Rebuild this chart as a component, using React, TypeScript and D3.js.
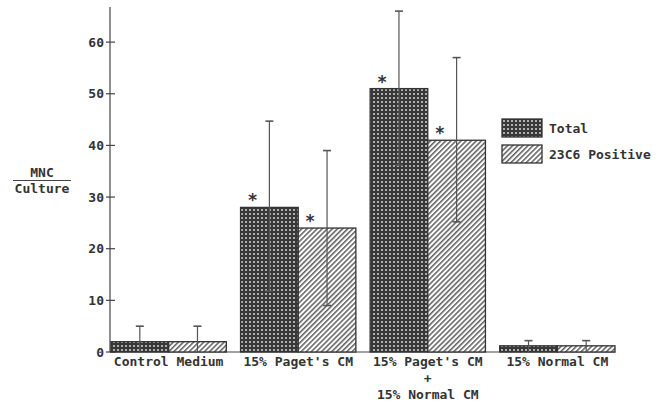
import React from "react";
import * as d3 from "d3";

// values
const groupLabels = [
  ["Control Medium"],
  ["15% Paget's CM"],
  ["15% Paget's CM", "+", "15% Normal CM"],
  ["15% Normal CM"],
];
const groups = ["control", "paget", "paget+normal", "normal"];
const seriesNames = ["Total", "23C6 Positive"];
const totalValues = [2, 28, 51, 1.2];
const positiveValues = [2, 24, 41, 1.2];
const totalErrLow = [0, 11.8, 36.2, 0];
const totalErrHigh = [5, 44.7, 66, 2.2];
const positiveErrLow = [0, 9, 25.2, 0];
const positiveErrHigh = [5, 39, 57, 2.2];
const significant = [false, true, true, false];
const yTicks = [0, 10, 20, 30, 40, 50, 60];

const W = 660;
const H = 403;
const font = "'DejaVu Sans Mono', 'Liberation Mono', monospace";
const ink = "#333";

export default function App() {
  const y = d3.scaleLinear().domain([0, 66.8]).range([352, 7]);
  const x0 = d3.scaleBand<string>().domain(groups).range([111, 615]).paddingInner(0.11);
  const x1 = d3
    .scaleBand<string>()
    .domain(seriesNames)
    .range([0, x0.bandwidth()]);

  const series = [
    { name: seriesNames[0], values: totalValues, lo: totalErrLow, hi: totalErrHigh, fill: "url(#cross)" },
    { name: seriesNames[1], values: positiveValues, lo: positiveErrLow, hi: positiveErrHigh, fill: "url(#diag)" },
  ];

  const lastEnd = (x0(groups[groups.length - 1]) as number) + x0.bandwidth();

  return (
    <svg
      width={W}
      height={H}
      style={{ position: "absolute", left: 0, top: 0, background: "#fff" }}
      fontFamily={font}
      fontWeight="bold"
      fontSize={13}
    >
      <defs>
        <pattern id="cross" width={4} height={4} patternUnits="userSpaceOnUse">
          <rect width={4} height={4} fill="#383838" />
          <rect x={1.2} y={1.2} width={1.6} height={1.6} fill="#f2f2f2" />
        </pattern>
        <pattern
          id="diag"
          width={3.6}
          height={3.6}
          patternUnits="userSpaceOnUse"
          patternTransform="rotate(45)"
        >
          <rect width={3.6} height={3.6} fill="#fff" />
          <line x1={0.8} y1={0} x2={0.8} y2={3.6} stroke="#444" strokeWidth={1.3} />
        </pattern>
      </defs>

      {/* y axis */}
      <line x1={110} x2={110} y1={y(66.8)} y2={y(0)} stroke="#444" strokeWidth={1.2} />
      {yTicks.map((t) => (
        <g key={t}>
          <line x1={106} x2={115} y1={y(t)} y2={y(t)} stroke="#444" strokeWidth={1.2} />
          <text x={104} y={y(t) + 4.7} textAnchor="end" fill={ink}>
            {t}
          </text>
        </g>
      ))}
      <line x1={110} x2={lastEnd} y1={y(0)} y2={y(0)} stroke="#444" strokeWidth={1.2} />

      {/* y label */}
      <text x={42} y={177} textAnchor="middle" fill={ink}>MNC</text>
      <line x1={13} x2={71} y1={180.5} y2={180.5} stroke="#444" strokeWidth={1.2} />
      <text x={42} y={192.5} textAnchor="middle" fill={ink}>Culture</text>

      {/* bars */}
      {series.map((s) =>
        groups.map((g, i) => {
          const bx = (x0(g) as number) + (x1(s.name) as number);
          const bw = x1.bandwidth();
          const top = y(s.values[i]);
          return (
            <rect
              key={s.name + g}
              x={bx}
              y={top}
              width={bw}
              height={y(0) - top}
              fill={s.fill}
              stroke="#333"
              strokeWidth={1.3}
            />
          );
        })
      )}

      {/* error bars */}
      {series.map((s) =>
        groups.map((g, i) => {
          const cx = (x0(g) as number) + (x1(s.name) as number) + x1.bandwidth() / 2;
          const yh = y(s.hi[i]);
          const yl = y(s.lo[i]);
          return (
            <g key={"e" + s.name + g} stroke="#555" strokeWidth={1.2}>
              <line x1={cx} x2={cx} y1={yh} y2={yl} />
              <line x1={cx - 4} x2={cx + 4} y1={yh} y2={yh} strokeWidth={1.6} />
              {s.lo[i] > 0 && <line x1={cx - 4} x2={cx + 4} y1={yl} y2={yl} strokeWidth={1.6} />}
            </g>
          );
        })
      )}

      {/* significance marks */}
      {series.map((s) =>
        groups.map((g, i) =>
          significant[i] ? (
            <text
              key={"s" + s.name + g}
              x={(x0(g) as number) + (x1(s.name) as number) + 12}
              y={y(s.values[i]) - 1}
              textAnchor="middle"
              fontSize={17}
              fill={ink}
            >
              *
            </text>
          ) : null
        )
      )}

      {/* x labels */}
      {groups.map((g, i) => (
        <text
          key={"l" + g}
          x={(x0(g) as number) + x0.bandwidth() / 2}
          y={366}
          textAnchor="middle"
          fill={ink}
        >
          {groupLabels[i].map((line, j) => (
            <tspan key={j} x={(x0(g) as number) + x0.bandwidth() / 2} y={366 + j * 16.5}>
              {line}
            </tspan>
          ))}
        </text>
      ))}

      {/* legend */}
      {series.map((s, i) => (
        <g key={"lg" + s.name} transform={`translate(502, ${119 + i * 26})`}>
          <rect width={40} height={18} fill={s.fill} stroke="#333" strokeWidth={1.3} />
          <text x={47} y={13.5} fill={ink}>
            {s.name}
          </text>
        </g>
      ))}
    </svg>
  );
}
